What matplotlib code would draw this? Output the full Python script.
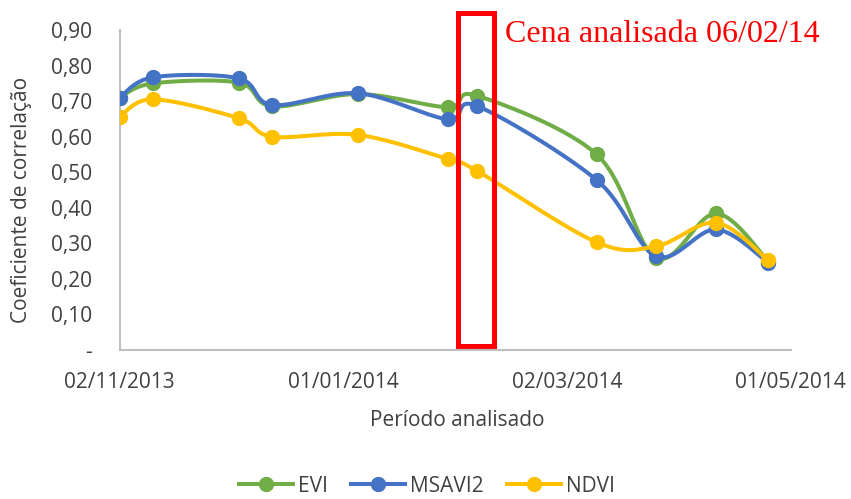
import numpy as np
import matplotlib
matplotlib.use('Agg')
import matplotlib.pyplot as plt
import matplotlib.dates as mdates
from matplotlib.lines import Line2D
from matplotlib.patches import Rectangle
from datetime import datetime

# ── Daten ──────────────────────────────────────────────────────────────────────
DATAS = ['02/11/2013', '11/11/2013', '04/12/2013', '13/12/2013', '05/01/2014',
         '29/01/2014', '06/02/2014', '10/03/2014', '26/03/2014', '11/04/2014',
         '25/04/2014']
EVI    = [0.710, 0.750, 0.752, 0.685, 0.720, 0.683, 0.715, 0.550, 0.259, 0.384, 0.250]
MSAVI2 = [0.710, 0.767, 0.764, 0.689, 0.722, 0.649, 0.686, 0.478, 0.264, 0.339, 0.246]
NDVI   = [0.656, 0.705, 0.652, 0.600, 0.605, 0.537, 0.503, 0.303, 0.292, 0.358, 0.253]
Y_TICKS = [0.0, 0.1, 0.2, 0.3, 0.4, 0.5, 0.6, 0.7, 0.8, 0.9]
X_TICKS = ['02/11/2013', '01/01/2014', '02/03/2014', '01/05/2014']

SERIES = [('EVI', EVI, '#70AD47'), ('MSAVI2', MSAVI2, '#4472C4'), ('NDVI', NDVI, '#FFC000')]

FONT = 'Open Sans'
CINZA = '#404040'
TAM = 15

def to_num(lst):
    return mdates.date2num([datetime.strptime(d, '%d/%m/%Y') for d in lst])

def suavizar(ax, x, y, n=30):
    # Glättung wie in Excel: Bezier mit Tangente (P[i+1]-P[i-1])/6 in Pixelkoordinaten
    P = ax.transData.transform(np.column_stack([x, y]))
    pts = []
    for i in range(len(P) - 1):
        p0 = P[i - 1] if i > 0 else P[i]
        p1, p2 = P[i], P[i + 1]
        p3 = P[i + 2] if i + 2 < len(P) else P[i + 1]
        c1 = p1 + (p2 - p0) / 6
        c2 = p2 - (p3 - p1) / 6
        t = np.linspace(0, 1, n)[:, None]
        seg = ((1 - t) ** 3) * p1 + 3 * ((1 - t) ** 2) * t * c1 + 3 * (1 - t) * t ** 2 * c2 + t ** 3 * p2
        pts.append(seg if i == 0 else seg[1:])
    pts = np.vstack(pts)
    return ax.transData.inverted().transform(pts).T

fig = plt.figure(figsize=(8.51, 4.99), dpi=100, facecolor='white')
ax = fig.add_axes([119.5 / 851, 149 / 499, 671 / 851, 320 / 499])

xn = to_num(DATAS)
xt = to_num(X_TICKS)
ax.set_xlim(xt[0], xt[-1])
ax.set_ylim(0, 0.9)

for nome, vals, cor in SERIES:
    sx, sy = suavizar(ax, xn, vals)
    ax.plot(sx, sy, color=cor, lw=2.9, solid_capstyle='round', zorder=3)
    ax.plot(xn, vals, 'o', color=cor, ms=10, zorder=3)

ax.set_xticks(xt)
ax.set_xticklabels(X_TICKS)
ax.set_yticks(Y_TICKS)
ax.set_yticklabels(['-' if v == 0 else f'{v:.2f}'.replace('.', ',') for v in Y_TICKS])
ax.tick_params(length=0, labelsize=TAM, colors=CINZA, labelfontfamily=FONT)
ax.tick_params(axis='x', pad=16)
ax.tick_params(axis='y', pad=20)

for s in ['top', 'right']:
    ax.spines[s].set_visible(False)
for s in ['left', 'bottom']:
    ax.spines[s].set_color('#BFBFBF')
    ax.spines[s].set_linewidth(1.5)

fig.text(21.5 / 851, 1 - 200 / 499, 'Coeficiente de correlação', rotation=90,
         ha='center', va='center', fontsize=TAM, color=CINZA, family=FONT)
fig.text(457 / 851, 1 - 420 / 499, 'Período analisado', ha='center', va='center',
         fontsize=TAM, color=CINZA, family=FONT)

# ── Markierung der analysierten Szene ──────────────────────────────────────────
fig.patches.append(Rectangle((458.2 / 851, 1 - 345.5 / 499), 36 / 851, 333 / 499,
                             transform=fig.transFigure, fill=False,
                             edgecolor='#FF0000', lw=3.6, zorder=5))
fig.text(505 / 851, 1 - 41.5 / 499, 'Cena analisada 06/02/14', ha='left', va='baseline',
         fontsize=23, color='#FF0000', family='Liberation Serif')

# ── Legende ────────────────────────────────────────────────────────────────────
handles = [Line2D([0], [0], color=c, lw=2.9, marker='o', ms=10) for _, _, c in SERIES]
fig.legend(handles, [n for n, _, _ in SERIES], loc='center', ncol=3,
           bbox_to_anchor=(427 / 851, 1 - 486 / 499), frameon=False,
           prop={'family': FONT, 'size': TAM}, labelcolor=CINZA,
           handlelength=2.6, handletextpad=0.25, columnspacing=1.1,
           borderpad=0.1)

plt.savefig('out.png', dpi=100, facecolor='white')
